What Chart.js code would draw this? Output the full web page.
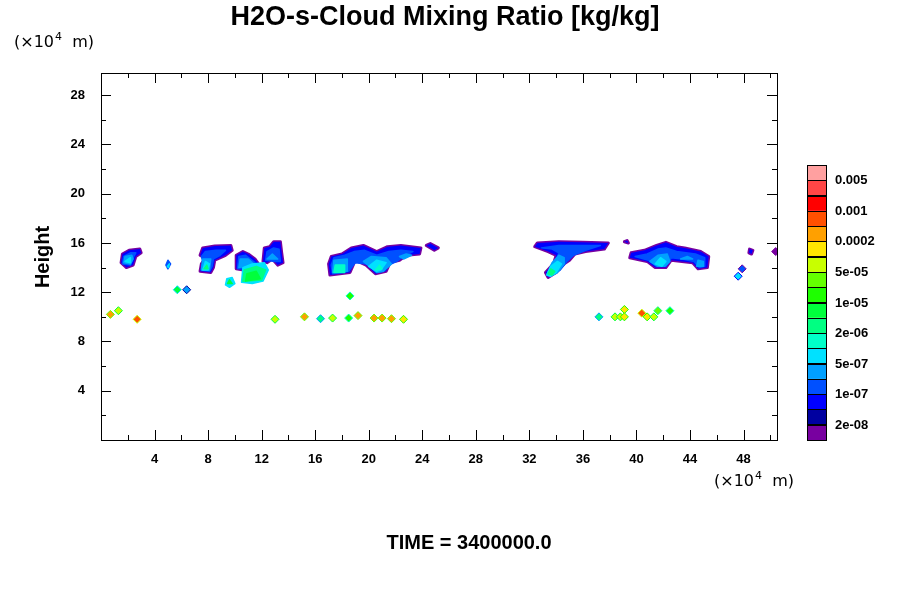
<!DOCTYPE html>
<html>
<head>
<meta charset="utf-8">
<script src="https://cdn.jsdelivr.net/npm/chart.js@4"></script>
<style>
  body { margin: 0; background: #fff; }
  #wrap { width: 900px; height: 600px; }
</style>
</head>
<body>
<div id="wrap"><canvas id="c"></canvas></div>
<script>
// colour levels, bottom (smallest) to top
const levelColors = ["#7800A0", "#0000A0", "#0000FF", "#0050FF", "#00A0FF", "#00E1FF", "#00FFC8", "#00FF82",
  "#00FF3C", "#1EFF00", "#64FF00", "#C8FF00", "#FFE600", "#FFA000", "#FF5000", "#FF0000", "#FF4646", "#FFA0A0"];
const levelLabels = ["2e-08", "1e-07", "5e-07", "2e-06", "1e-05", "5e-05", "0.0002", "0.001", "0.005"];
const xTicks = [4, 8, 12, 16, 20, 24, 28, 32, 36, 40, 44, 48];
const yTicks = [4, 8, 12, 16, 20, 24, 28];

// cloud regions: [level index, polygon in (x 1e4 m, height 1e4 m)]
const blobs = [
  // near x=2
  [0, [[1.5,14.4],[1.6,15.1],[2.1,15.4],[2.9,15.5],[3.0,15.2],[2.6,14.9],[2.4,14.2],[1.9,14.0]]],
  [3, [[1.6,14.3],[1.7,14.9],[2.2,15.2],[2.6,15.2],[2.4,14.8],[2.2,14.2]]],
  [4, [[1.7,14.4],[1.8,14.9],[2.3,15.0],[2.4,14.7],[2.2,14.3]]],
  [5, [[1.8,14.5],[2.2,14.8],[2.2,14.4]]],
  [3, [[4.85,14.2],[5.0,14.6],[5.2,14.3],[5.0,13.9]]],
  [5, [[4.95,14.1],[5.1,14.3],[5.05,14.0]]],
  // x=7..10
  [0, [[7.4,15.0],[7.6,15.6],[8.5,15.75],[9.7,15.8],[9.8,15.4],[9.3,15.0],[8.5,14.6],[8.4,14.0],[8.2,13.6],[7.4,13.7],[7.5,14.3],[7.8,14.8]]],
  [3, [[7.5,14.9],[7.8,15.3],[8.6,15.4],[9.3,15.4],[8.9,15.0],[8.4,14.7],[8.3,14.1],[8.1,13.7],[7.5,13.8],[7.6,14.5]]],
  [4, [[7.5,13.8],[7.6,14.7],[8.2,14.7],[8.1,13.8]]],
  [5, [[7.6,13.8],[7.8,14.5],[8.1,14.3],[8.0,13.8]]],
  [7, [[7.7,13.9],[7.9,14.2],[8.0,13.9]]],
  [5, [[9.3,12.6],[9.4,13.1],[9.8,13.2],[10.0,12.7],[9.6,12.4]]],
  [8, [[9.45,12.7],[9.6,13.0],[9.8,12.7]]],
  // x=10..14
  [0, [[12.1,14.5],[12.2,15.6],[12.6,15.7],[12.9,16.1],[13.4,16.1],[13.5,15.2],[13.6,14.4],[13.2,14.2],[12.8,14.7],[12.4,14.4]]],
  [3, [[12.3,14.6],[12.4,15.3],[12.9,15.6],[13.3,15.5],[13.4,14.5],[13.0,14.5]]],
  [4, [[12.4,14.7],[12.8,15.1],[13.2,14.7]]],
  [0, [[10.1,13.9],[10.1,15.0],[10.6,15.3],[11.0,15.1],[11.5,14.7],[11.9,14.1],[11.2,13.7]]],
  [3, [[10.2,13.9],[10.3,14.9],[10.8,15.0],[11.5,14.4],[11.5,13.9]]],
  [4, [[10.3,14.0],[10.4,14.7],[11.0,14.7],[11.5,14.2]]],
  [5, [[10.5,12.8],[10.6,14.0],[11.3,14.3],[12.2,14.4],[12.5,13.8],[12.1,12.9],[11.3,12.7]]],
  [7, [[10.6,12.9],[10.7,13.8],[11.6,14.1],[12.3,13.8],[12.0,13.0]]],
  [8, [[10.8,12.9],[10.9,13.5],[11.6,13.7],[11.9,13.1]]],
  // x=17..24
  [0, [[17.0,14.3],[17.2,14.9],[18.0,15.1],[18.7,15.6],[19.6,15.8],[20.6,15.3],[21.4,15.7],[22.4,15.8],[23.9,15.6],[23.8,15.1],[22.8,15.0],[22.3,14.6],[21.6,14.4],[21.3,13.7],[20.5,13.5],[19.8,14.2],[19.0,14.6],[18.6,13.6],[17.1,13.4]]],
  [3, [[17.2,14.2],[17.4,14.8],[18.2,15.0],[18.9,15.3],[19.7,15.4],[20.6,15.0],[21.5,15.3],[22.4,15.4],[23.3,15.3],[22.6,14.9],[22.1,14.5],[21.5,14.2],[21.1,13.7],[20.6,13.6],[19.9,14.3],[19.0,14.4],[18.5,13.7],[17.3,13.5]]],
  [4, [[17.3,13.6],[17.4,14.6],[18.4,14.7],[18.4,13.7]]],
  [4, [[19.6,14.5],[20.2,14.9],[21.3,14.8],[21.7,14.3],[21.1,13.7],[20.6,13.6]]],
  [4, [[22.3,14.9],[22.8,15.1],[23.2,15.0],[22.6,14.7]]],
  [6, [[17.4,13.6],[17.5,14.2],[18.2,14.2],[18.2,13.6]]],
  [5, [[20.0,14.1],[20.6,14.6],[21.3,14.4],[20.9,13.8],[20.6,13.7]]],
  [6, [[20.5,13.8],[20.8,14.2],[21.0,13.9]]],
  [0, [[24.3,15.8],[24.6,15.95],[25.2,15.6],[24.9,15.4]]],
  // x=32..38
  [0, [[32.4,15.7],[32.6,16.0],[34.2,16.1],[36.0,16.05],[37.9,16.0],[37.6,15.5],[36.2,15.3],[35.4,15.1],[35.0,14.6],[34.6,14.3],[34.0,13.6],[33.4,13.2],[33.2,13.6],[33.8,14.3],[34.0,15.0],[33.4,15.3]]],
  [3, [[32.9,15.6],[34.2,15.8],[36.0,15.8],[37.3,15.8],[36.2,15.4],[35.3,15.0],[34.8,14.5],[34.3,13.8],[33.5,13.3],[33.4,13.7],[34.0,14.4],[34.2,15.2],[33.7,15.5]]],
  [4, [[33.3,13.4],[33.7,14.4],[34.2,15.0],[34.6,14.8],[34.6,14.3],[34.1,13.6],[33.6,13.3]]],
  [5, [[33.3,13.4],[33.6,14.1],[34.1,14.5],[34.4,14.3],[34.0,13.6],[33.6,13.3]]],
  [7, [[33.4,13.5],[33.6,13.9],[33.9,13.7],[33.7,13.4]]],
  [0, [[39.1,16.1],[39.3,16.2],[39.4,16.0]]],
  // x=39.5..45.5
  [0, [[39.5,14.8],[39.6,15.2],[40.6,15.4],[41.5,15.8],[42.2,16.05],[43.0,15.7],[43.6,15.6],[44.8,15.3],[45.4,14.9],[45.3,14.0],[44.6,13.9],[44.2,14.4],[43.4,14.5],[42.6,14.6],[42.2,14.0],[41.4,14.0],[40.8,14.5]]],
  [3, [[39.9,14.9],[40.8,15.1],[41.6,15.5],[42.2,15.6],[43.0,15.3],[44.4,15.1],[45.1,14.8],[45.1,14.1],[44.7,14.0],[44.3,14.5],[43.4,14.7],[42.6,14.8],[42.2,14.1],[41.5,14.1],[40.9,14.6]]],
  [4, [[41.0,14.5],[41.6,15.0],[42.3,15.1],[42.5,14.5],[42.1,14.1],[41.6,14.1]]],
  [5, [[41.4,14.3],[41.8,14.8],[42.2,14.5],[41.9,14.1]]],
  [4, [[44.5,14.1],[44.6,14.6],[45.0,14.5],[45.0,14.1]]],
  [4, [[43.3,14.7],[43.8,14.9],[44.2,14.7]]],
  [0, [[48.4,15.2],[48.45,15.5],[48.7,15.4],[48.6,15.1]]]
];

// small isolated cells: x, height, level
const specksX = [0.7, 1.3, 2.7, 5.7, 6.4, 13.0, 15.2, 16.4, 17.3, 18.5, 18.6, 19.2, 20.4, 21.0, 21.7, 22.6,
  37.2, 38.4, 38.8, 39.1, 39.1, 40.4, 40.8, 41.3, 41.6, 42.5, 47.9, 47.6, 50.4];
const specksY = [10.2, 10.5, 9.8, 12.2, 12.2, 9.8, 10.0, 9.85, 9.9, 9.9, 11.7, 10.1, 9.9, 9.9, 9.85, 9.8,
  10.0, 10.0, 10.0, 10.6, 10.0, 10.3, 10.0, 10.0, 10.5, 10.5, 13.9, 13.3, 15.3];
const specksLevel = [13, 11, 14, 8, 4, 11, 13, 7, 11, 9, 9, 13, 13, 13, 13, 12,
  7, 11, 11, 12, 12, 14, 12, 11, 10, 9, 3, 5, 0];

const specks = specksX.map((x, i) => ({ x: x, y: specksY[i] }));

const cloudPlugin = {
  id: "cloud",
  beforeDatasetsDraw(chart) {
    const { ctx, scales: { x, y }, chartArea: a } = chart;
    ctx.save();
    ctx.beginPath();
    ctx.rect(a.left, a.top, a.right - a.left, a.bottom - a.top);
    ctx.clip();
    ctx.lineJoin = "round";
    blobs.forEach(([lvl, pts]) => {
      ctx.beginPath();
      pts.forEach(([px, py], i) => {
        const X = x.getPixelForValue(px), Y = y.getPixelForValue(py);
        i ? ctx.lineTo(X, Y) : ctx.moveTo(X, Y);
      });
      ctx.closePath();
      if (lvl === 0) {
        // thin purple rim, then blue body
        ctx.strokeStyle = levelColors[0];
        ctx.lineWidth = 3;
        ctx.stroke();
        ctx.fillStyle = levelColors[2];
        ctx.fill();
      } else {
        ctx.fillStyle = levelColors[lvl];
        ctx.strokeStyle = levelColors[lvl];
        ctx.lineWidth = 1.5;
        ctx.fill();
        ctx.stroke();
      }
    });
    ctx.restore();
  },
  afterDraw(chart) {
    const { ctx, scales: { x, y }, chartArea: a } = chart;
    ctx.save();
    ctx.strokeStyle = "#000";
    ctx.lineWidth = 1;
    ctx.strokeRect(a.left + 0.5, a.top + 0.5, a.right - a.left, a.bottom - a.top);
    ctx.beginPath();
    for (let v = 2; v <= 50; v += 2) {
      const X = Math.round(x.getPixelForValue(v)) + 0.5;
      const L = v % 4 === 0 ? 10 : 5;
      ctx.moveTo(X, a.bottom); ctx.lineTo(X, a.bottom - L);
      ctx.moveTo(X, a.top); ctx.lineTo(X, a.top + L);
    }
    for (let v = 2; v <= 29; v += 2) {
      const Y = Math.round(y.getPixelForValue(v)) + 0.5;
      const L = v % 4 === 0 ? 10 : 5;
      ctx.moveTo(a.left, Y); ctx.lineTo(a.left + L, Y);
      ctx.moveTo(a.right, Y); ctx.lineTo(a.right - L, Y);
    }
    ctx.stroke();

    ctx.fillStyle = "#000";
    ctx.textAlign = "center";
    ctx.textBaseline = "middle";
    ctx.font = "bold 27px 'Liberation Sans', Arial, sans-serif";
    ctx.fillText("H2O-s-Cloud Mixing Ratio [kg/kg]", 445, 18);
    ctx.font = "bold 20px 'Liberation Sans', Arial, sans-serif";
    ctx.fillText("TIME = 3400000.0", 469, 543);
    ctx.save();
    ctx.translate(43, 257);
    ctx.rotate(-Math.PI / 2);
    ctx.fillText("Height", 0, 0);
    ctx.restore();

    ctx.textAlign = "left";
    const unit = (lx, ly) => {
      ctx.font = "16px 'DejaVu Sans', sans-serif";
      ctx.fillText("(\u00d710", lx, ly);
      let w = ctx.measureText("(\u00d710").width;
      ctx.font = "11px 'DejaVu Sans', sans-serif";
      ctx.fillText("4", lx + w + 1, ly - 6);
      ctx.font = "16px 'DejaVu Sans', sans-serif";
      ctx.fillText("  m)", lx + w + 8, ly);
    };
    unit(14, 43);
    unit(714, 482);

    // colour bar
    const bx = 807, bw = 19, top = 165, bh = 15.28;
    const n = levelColors.length;
    for (let i = 0; i < n; i++) {
      const yy = top + (n - 1 - i) * bh;
      ctx.fillStyle = levelColors[i];
      ctx.fillRect(bx, yy, bw, bh);
      ctx.strokeStyle = "#000";
      ctx.strokeRect(bx + 0.5, Math.round(yy) + 0.5, bw, Math.round(bh));
    }
    ctx.fillStyle = "#000";
    ctx.font = "bold 13px 'Liberation Sans', Arial, sans-serif";
    levelLabels.forEach((t, k) => {
      const yy = top + (n - 1 - (2 * k)) * bh;
      ctx.fillText(t, 835, yy + 0.5);
    });
    ctx.restore();
  }
};

new Chart(document.getElementById("c"), {
  type: "scatter",
  data: {
    datasets: [{
      data: specks,
      pointStyle: "rectRot",
      pointRadius: 4,
      pointBorderWidth: 1,
      borderColor: specksLevel.map(l => levelColors[Math.max(0, l - 3)]),
      backgroundColor: specksLevel.map(l => levelColors[l])
    }]
  },
  options: {
    responsive: true,
    maintainAspectRatio: false,
    animation: false,
    layout: { padding: { left: 41, right: 123, top: 73, bottom: 130 } },
    plugins: { legend: { display: false }, tooltip: { enabled: false } },
    scales: {
      x: {
        type: "linear", min: 0, max: 50.5,
        afterFit: s => { s.height = 30; },
        afterBuildTicks: s => { s.ticks = xTicks.map(v => ({ value: v })); },
        grid: { display: false },
        border: { display: false },
        ticks: { color: "#000", font: { size: 13, weight: "bold", family: "'Liberation Sans', Arial" }, padding: 4, maxRotation: 0 }
      },
      y: {
        type: "linear", min: 0, max: 29.8,
        afterFit: s => { s.width = 60; },
        afterBuildTicks: s => { s.ticks = yTicks.map(v => ({ value: v })); },
        grid: { display: false },
        border: { display: false },
        ticks: { color: "#000", font: { size: 13, weight: "bold", family: "'Liberation Sans', Arial" }, padding: 8 }
      }
    }
  },
  plugins: [cloudPlugin]
});
</script>
</body>
</html>
